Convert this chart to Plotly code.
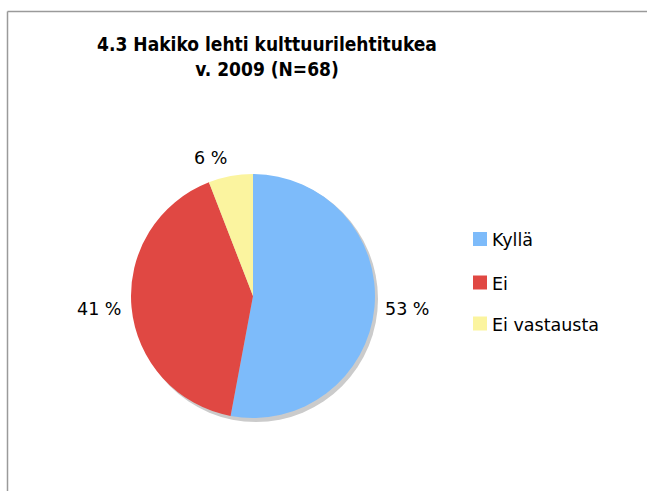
import math
import plotly.graph_objects as go

title_lines = ["4.3 Hakiko lehti kulttuurilehtitukea", "v. 2009 (N=68)"]
labels = ["Kyllä", "Ei", "Ei vastausta"]
counts = [36, 28, 4]
colors = ["#7DBBFA", "#E04843", "#FBF49F"]

W, H = 647, 491
cx, cy, r = 253, 296, 122

def px(x):
    return x / W

def py(y):
    return 1 - y / H

total = sum(counts)
pct_text = [f"{round(100 * c / total)} %" for c in counts]

FONT = "Verdana, DejaVu Sans"
LBL_SIZE = 17.5

fig = go.Figure()
fig.add_trace(go.Pie(
    labels=labels,
    values=counts,
    marker=dict(colors=colors, line=dict(width=0)),
    sort=False,
    direction="clockwise",
    rotation=0,
    textinfo="none",
    domain=dict(x=[px(cx - r), px(cx + r)], y=[py(cy + r), py(cy - r)]),
    showlegend=False,
    hoverinfo="label+percent",
))

shapes = [
    # shadow
    dict(type="circle", xref="paper", yref="paper", layer="below",
         x0=px(cx - r + 3), x1=px(cx + r + 3), y0=py(cy + r + 4), y1=py(cy - r + 2),
         fillcolor="#CBCBCB", line=dict(width=0)),
    # frame lines
    dict(type="line", xref="paper", yref="paper", x0=px(7.5), x1=1, y0=py(11.5), y1=py(11.5),
         line=dict(color="#9A9A9A", width=1.5)),
    dict(type="line", xref="paper", yref="paper", x0=px(7.5), x1=px(7.5), y0=py(11.5), y1=0,
         line=dict(color="#9A9A9A", width=1.5)),
]

annotations = []

# percentage labels outside the slices (positions derived from the data)
gap = 9
cum = 0
for c, t in zip(counts, pct_text):
    mid = (cum + c / 2) / total * 2 * math.pi
    cum += c
    ux, uy = math.sin(mid), -math.cos(mid)  # screen coords (y down)
    hw = 0.5 * (sum(0.636 for ch in t if ch.isdigit()) + 0.35 + 1.1) * LBL_SIZE
    hh = 9
    lx = cx + ux * (r + gap) + math.copysign(hw, ux)
    ly = cy + uy * (r + gap) + uy * hh
    annotations.append(dict(text=t, xref="paper", yref="paper", x=px(lx), y=py(ly),
                            xanchor="center", yanchor="middle", showarrow=False,
                            font=dict(family=FONT, size=LBL_SIZE, color="#000000")))

leg_y = [239, 282.5, 323.5]
for lab, col, yy in zip(labels, colors, leg_y):
    shapes.append(dict(type="rect", xref="paper", yref="paper",
                       x0=px(473), x1=px(487), y0=py(yy + 7), y1=py(yy - 7),
                       fillcolor=col, line=dict(width=0)))
    annotations.append(dict(text=lab, xref="paper", yref="paper", x=px(490), y=py(yy + 1),
                            xanchor="left", yanchor="middle", showarrow=False,
                            font=dict(family=FONT, size=17.5, color="#000000")))

fig.update_layout(
    width=W, height=H,
    margin=dict(l=0, r=0, t=0, b=0),
    paper_bgcolor="white", plot_bgcolor="white",
    title=dict(text="<b>" + "<br>".join(title_lines) + "</b>",
               x=px(267), xanchor="center", y=py(51), yanchor="middle",
               font=dict(family="DejaVu Sans Condensed, DejaVu Sans", size=19, color="#000000")),
    shapes=shapes,
    annotations=annotations,
    showlegend=False,
)

fig.write_html("out.html", config={"displayModeBar": False},
               post_script="document.body.style.margin='0';document.body.style.overflow='hidden';")
